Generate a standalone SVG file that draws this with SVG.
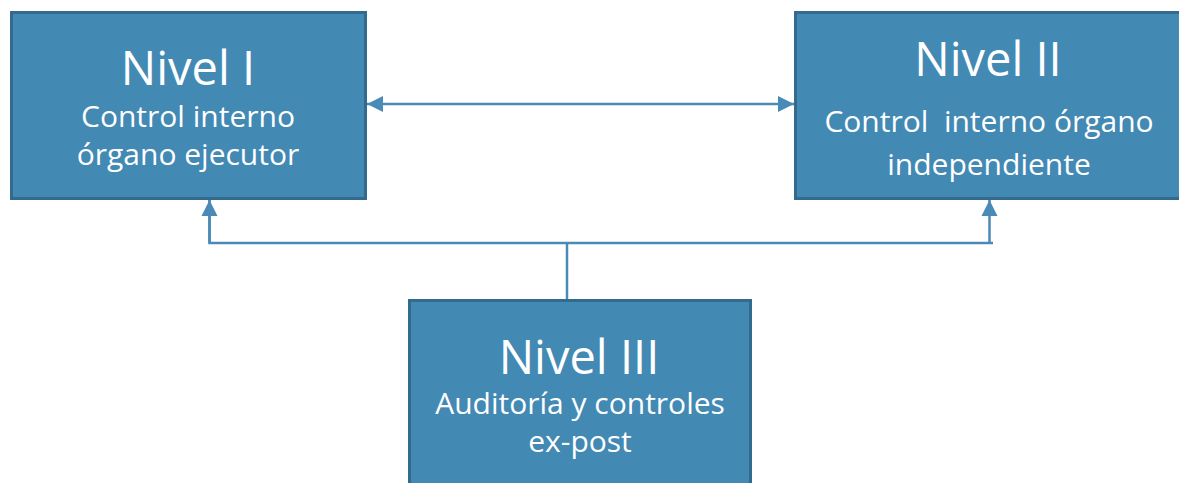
<svg xmlns="http://www.w3.org/2000/svg" width="1179" height="483" viewBox="0 0 1179 483">
<style>
.box{fill:#4289b4;stroke:#336a8e;stroke-width:3}
.t1{font-family:"Open Sans","DejaVu Sans",sans-serif;font-size:47px;fill:#ffffff;text-anchor:middle}
.t2{font-family:"Open Sans","DejaVu Sans",sans-serif;font-size:30px;fill:#ffffff;text-anchor:middle}
.c{fill:none;stroke:#4a8ab6;stroke-width:2.5}
</style>
<defs>
<marker id="ah" viewBox="0 0 10 10" refX="10" refY="5" markerWidth="6.4" markerHeight="7" orient="auto-start-reverse" markerUnits="strokeWidth">
<path d="M0,0 L10,5 L0,10 Z" fill="#4a8ab6"/>
</marker>
</defs>
<rect width="1179" height="483" fill="#ffffff"/>
<g id="connectors">
<line class="c" x1="367" y1="104" x2="794" y2="104" marker-start="url(#ah)" marker-end="url(#ah)"/>
<polyline class="c" points="209.5,200 209.5,243 993,243"/>
<line class="c" x1="989.5" y1="243" x2="989.5" y2="200" marker-end="url(#ah)"/>
<line class="c" x1="209.5" y1="243" x2="209.5" y2="200" marker-end="url(#ah)"/>
<line class="c" x1="567" y1="243" x2="567" y2="299"/>
</g>
<g id="nivel1">
<rect class="box" x="11.5" y="12.5" width="354" height="186"/>
<text class="t1" x="188" y="85">Nivel I</text>
<text class="t2" x="188" y="127">Control interno</text>
<text class="t2" x="188" y="165">órgano ejecutor</text>
</g>
<g id="nivel2">
<rect class="box" x="795.5" y="12.5" width="390" height="186"/>
<text class="t1" x="988" y="76">Nivel II</text>
<text class="t2" x="989" y="132" xml:space="preserve">Control  interno órgano</text>
<text class="t2" x="989" y="175">independiente</text>
</g>
<g id="nivel3">
<rect class="box" x="409.5" y="300.5" width="341" height="200"/>
<text class="t1" x="579" y="374">Nivel III</text>
<text class="t2" x="580" y="414">Auditoría y controles</text>
<text class="t2" x="580" y="452">ex-post</text>
</g>
</svg>
